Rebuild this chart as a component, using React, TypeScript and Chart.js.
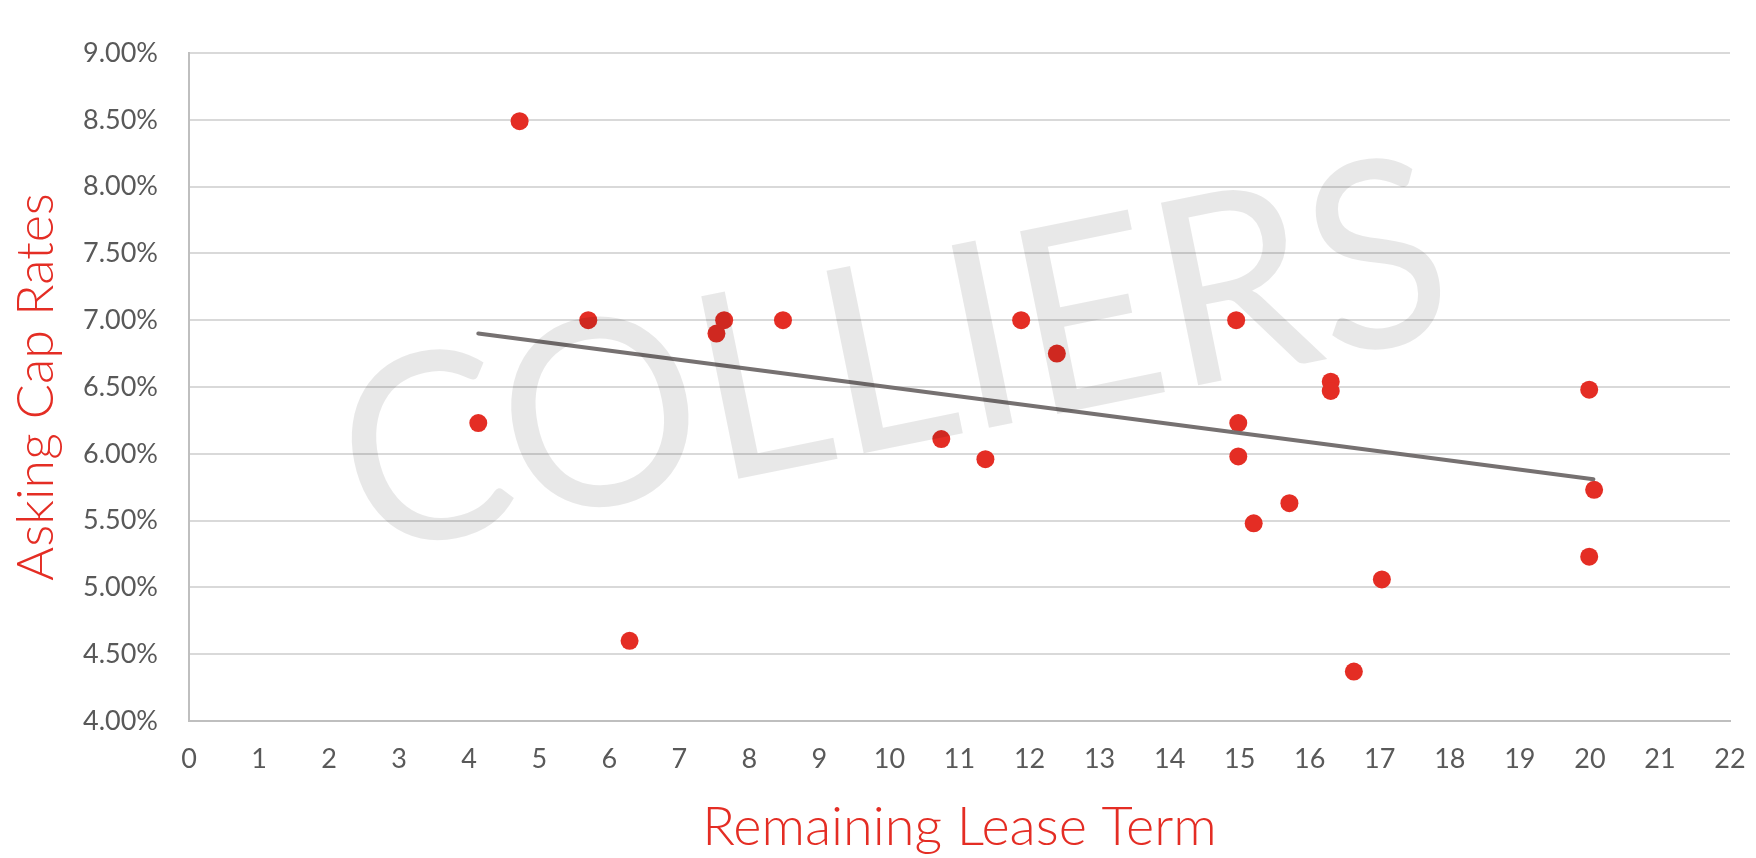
import React, { useEffect, useRef } from "react";
import { Chart, registerables } from "chart.js";

Chart.register(...registerables);

const leaseTerm = [4.13, 4.72, 5.7, 6.29, 7.53, 7.64, 8.48, 10.74, 11.37, 11.88, 12.39, 14.95, 14.98, 14.98, 15.2, 15.71, 16.3, 16.3, 16.63, 17.03, 19.99, 20.06, 19.99];
const capRate = [6.23, 8.49, 7.0, 4.6, 6.9, 7.0, 7.0, 6.11, 5.96, 7.0, 6.75, 7.0, 6.23, 5.98, 5.48, 5.63, 6.54, 6.47, 4.37, 5.06, 6.48, 5.73, 5.23];
const trendX = [4.13, 20.05];
const trendY = [6.9, 5.81];
const xTitle = "Remaining Lease Term";
const yTitle = "Asking Cap Rates";
const watermark = "COLLIERS";

const W = 1756;
const H = 858;

const watermarkPlugin = {
  id: "watermark",
  afterDatasetsDraw(chart: any) {
    const ctx = chart.ctx as CanvasRenderingContext2D;
    ctx.save();
    ctx.font = "400 260px Lato";
    const m = ctx.measureText(watermark);
    const inkW = m.actualBoundingBoxLeft + m.actualBoundingBoxRight;
    const sx = 1100 / inkW;
    ctx.translate(893, 352);
    ctx.rotate((-11.5 * Math.PI) / 180);
    ctx.scale(sx, 1);
    ctx.textAlign = "left";
    ctx.textBaseline = "alphabetic";
    ctx.fillStyle = "rgba(0,0,0,0.09)";
    const asc = m.actualBoundingBoxAscent;
    const desc = m.actualBoundingBoxDescent;
    ctx.fillText(watermark, -inkW / 2 + m.actualBoundingBoxLeft, (asc - desc) / 2);
    ctx.restore();
  },
};

export default function App() {
  const ref = useRef<HTMLCanvasElement>(null);
  useEffect(() => {
    if (!ref.current) return;
    const chart = new Chart(ref.current, {
      type: "scatter",
      data: {
        datasets: [
          {
            type: "line",
            label: "Trend",
            data: trendX.map((x, i) => ({ x, y: trendY[i] })),
            borderColor: "#767171",
            borderWidth: 4,
            borderCapStyle: "round",
            pointRadius: 0,
            fill: false,
            order: 0,
          } as any,
          {
            type: "scatter",
            label: "Asking Cap Rates",
            data: leaseTerm.map((x, i) => ({ x, y: capRate[i] })),
            backgroundColor: "#E42D24",
            borderWidth: 0,
            pointRadius: 9,
            order: 1,
          },
        ],
      },
      options: {
        responsive: false,
        animation: false,
        devicePixelRatio: 1,
        layout: { padding: { top: 53, right: 26, left: 0, bottom: 0 } },
        plugins: {
          legend: { display: false },
          tooltip: { enabled: false },
        },
        scales: {
          x: {
            type: "linear",
            min: 0,
            max: 22,
            afterFit: (s: any) => {
              s.height = 137;
              s.paddingRight = 0;
              s.paddingLeft = 0;
            },
            ticks: {
              stepSize: 1,
              color: "#595959",
              font: { family: "Lato", size: 27 },
              padding: 22,
            },
            grid: { display: false, drawTicks: false },
            border: { display: true, color: "#bfbfbf", width: 2 },
            title: {
              display: true,
              text: xTitle,
              color: "#E42D24",
              font: { family: "Lato", size: 54, weight: "300" },
              padding: { top: 0, bottom: -2 },
            },
          },
          y: {
            type: "linear",
            min: 4,
            max: 9,
            afterFit: (s: any) => {
              s.width = 189;
              s.paddingTop = 0;
              s.paddingBottom = 0;
            },
            ticks: {
              stepSize: 0.5,
              color: "#595959",
              font: { family: "Lato", size: 27 },
              padding: 31,
              callback: (v: any) => Number(v).toFixed(2) + "%",
            },
            grid: { color: "#d9d9d9", lineWidth: 2, drawTicks: false },
            border: { display: true, color: "#bfbfbf", width: 2 },
            title: {
              display: true,
              text: yTitle,
              color: "#E42D24",
              font: { family: "Lato", size: 52, weight: "300" },
              padding: { top: 5, bottom: 0 },
            },
          },
        },
      },
      plugins: [watermarkPlugin],
    } as any);
    return () => chart.destroy();
  }, []);
  return (
    <div style={{ position: "absolute", left: 0, top: 0, width: W, height: H, background: "#fff" }}>
      <canvas ref={ref} width={W} height={H} style={{ width: W, height: H, display: "block" }} />
    </div>
  );
}
